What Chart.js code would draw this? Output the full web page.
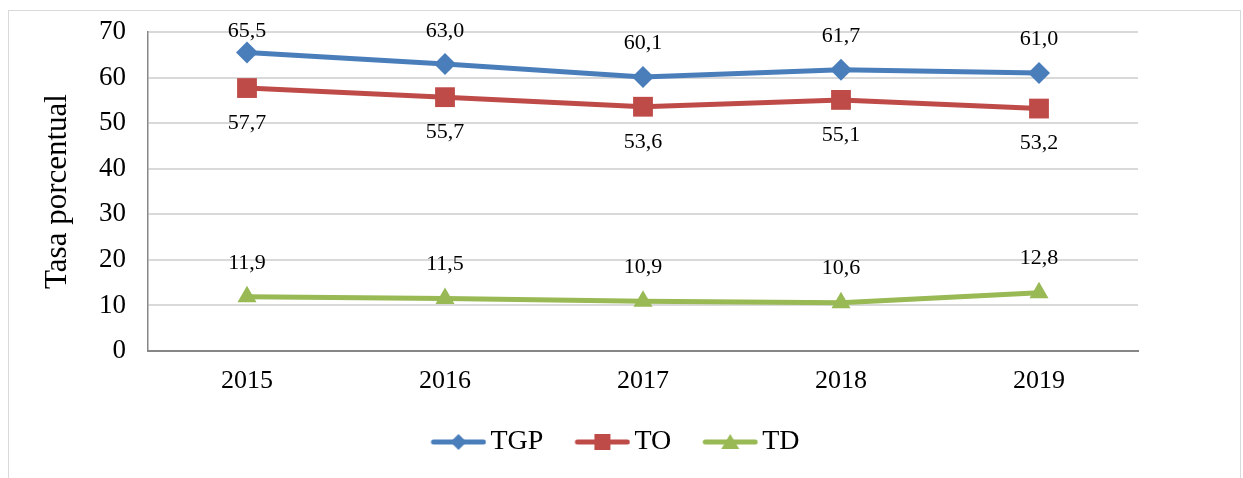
<!DOCTYPE html>
<html>
<head>
<meta charset="utf-8">
<script src="https://cdn.jsdelivr.net/npm/chart.js@4/dist/chart.umd.min.js"></script>
<style>
  html, body { margin: 0; padding: 0; background: #fff; }
  #wrap { position: relative; width: 1243px; height: 478px; }
  #frame { position: absolute; left: 8px; top: 10px; width: 1233px; height: 480px; border: 1px solid #d9d9d9; box-sizing: border-box; }
  canvas { position: absolute; left: 0; top: 0; }
</style>
</head>
<body>
<div id="wrap">
  <div id="frame"></div>
  <canvas id="chart" width="1243" height="478"></canvas>
</div>
<script>
(function() {
  'use strict';
  // 年
  const years = ['2015', '2016', '2017', '2018', '2019'];
  // 系列
  const tgpValues = [65.5, 63.0, 60.1, 61.7, 61.0];
  const toValues = [57.7, 55.7, 53.6, 55.1, 53.2];
  const tdValues = [11.9, 11.5, 10.9, 10.6, 12.8];
  // 軸目盛
  const yMin = 0;
  const yMax = 70;
  const yStep = 10;

  const serif = '"Liberation Serif", "Times New Roman", serif';
  const blue = '#4a7ebb';
  const red = '#be4b48';
  const green = '#98b954';

  // 凡例用の画像（線＋マーカー）
  function legendImage(color, style) {
    const c = document.createElement('canvas');
    c.width = 60;
    c.height = 24;
    const ctx = c.getContext('2d');
    ctx.strokeStyle = color;
    ctx.fillStyle = color;
    ctx.lineWidth = 5;
    ctx.lineCap = 'round';
    ctx.beginPath();
    ctx.moveTo(7, 12);
    ctx.lineTo(57, 12);
    ctx.stroke();
    ctx.beginPath();
    if (style === 'diamond') {
      ctx.moveTo(32, 4); ctx.lineTo(40, 12); ctx.lineTo(32, 20); ctx.lineTo(24, 12);
    } else if (style === 'square') {
      ctx.rect(24, 4, 16, 16);
    } else {
      ctx.moveTo(32, 4); ctx.lineTo(41, 19); ctx.lineTo(23, 19);
    }
    ctx.closePath();
    ctx.fill();
    return c;
  }

  // データラベル
  const labelPlugin = {
    id: 'valueLabels',
    afterDatasetsDraw(chart) {
      const ctx = chart.ctx;
      ctx.save();
      ctx.font = '22px ' + serif;
      ctx.fillStyle = '#000';
      ctx.textAlign = 'center';
      ctx.textBaseline = 'middle';
      chart.data.datasets.forEach(function(ds, i) {
        const meta = chart.getDatasetMeta(i);
        meta.data.forEach(function(pt, j) {
          let y = ds.labelBelow ? pt.y + 35 : pt.y - 34;
          if (y < 31) y = 31;
          ctx.fillText(ds.data[j].toFixed(1).replace('.', ','), pt.x, y);
        });
      });
      ctx.restore();
    }
  };

  // 凡例を少し右へ
  const legendShift = {
    id: 'legendShift',
    afterLayout(chart) {
      chart.legend.left += 34;
      chart.legend.right += 34;
    }
  };

  new Chart(document.getElementById('chart').getContext('2d'), {
    type: 'line',
    data: {
      labels: years,
      datasets: [{
        label: 'TGP',
        data: tgpValues,
        borderColor: blue,
        backgroundColor: blue,
        pointStyle: 'rectRot',
        pointRadius: 11,
        legendImg: legendImage(blue, 'diamond'),
      }, {
        label: 'TO',
        data: toValues,
        borderColor: red,
        backgroundColor: red,
        pointStyle: 'rect',
        pointRadius: 14,
        labelBelow: true,
        legendImg: legendImage(red, 'square'),
      }, {
        label: 'TD',
        data: tdValues,
        borderColor: green,
        backgroundColor: green,
        pointStyle: 'triangle',
        pointRadius: 11,
        legendImg: legendImage(green, 'triangle'),
      }],
    },
    options: {
      responsive: false,
      animation: false,
      events: [],
      elements: {
        line: { borderWidth: 5, tension: 0 },
        point: { borderWidth: 0 },
      },
      layout: { padding: { left: 30, right: 105, top: 32, bottom: 12 } },
      plugins: {
        tooltip: { enabled: false },
        legend: {
          position: 'bottom',
          labels: {
            usePointStyle: true,
            pointStyleWidth: 40,
            boxHeight: 24,
            padding: 37,
            color: '#000',
            font: { family: serif, size: 28 },
            generateLabels(chart) {
              return chart.data.datasets.map(function(ds, i) {
                return {
                  text: ds.label,
                  pointStyle: ds.legendImg,
                  datasetIndex: i,
                  fillStyle: ds.borderColor,
                  strokeStyle: ds.borderColor,
                  lineWidth: 0,
                  fontColor: '#000',
                };
              });
            },
          },
        },
      },
      scales: {
        x: {
          offset: true,
          grid: { display: false, drawTicks: false },
          border: { color: '#868686', width: 2 },
          ticks: { color: '#000', padding: 15, font: { family: serif, size: 26 } },
          afterFit(scale) {
            scale.height = 40;
            scale.paddingLeft = 0;
            scale.paddingRight = 0;
          },
        },
        y: {
          min: yMin,
          max: yMax,
          grid: { color: '#d9d9d9', lineWidth: 2, drawTicks: false },
          border: { color: '#868686', width: 1.5 },
          ticks: { stepSize: yStep, color: '#000', padding: 22, font: { family: serif, size: 27 } },
          title: {
            display: true,
            text: 'Tasa porcentual',
            color: '#000',
            padding: { top: 9, bottom: 0 },
            font: { family: serif, size: 31 },
          },
          afterFit(scale) {
            scale.width = 118;
            scale.paddingTop = 0;
            scale.paddingBottom = 0;
          },
        },
      },
    },
    plugins: [labelPlugin, legendShift],
  });
})();
</script>
</body>
</html>
